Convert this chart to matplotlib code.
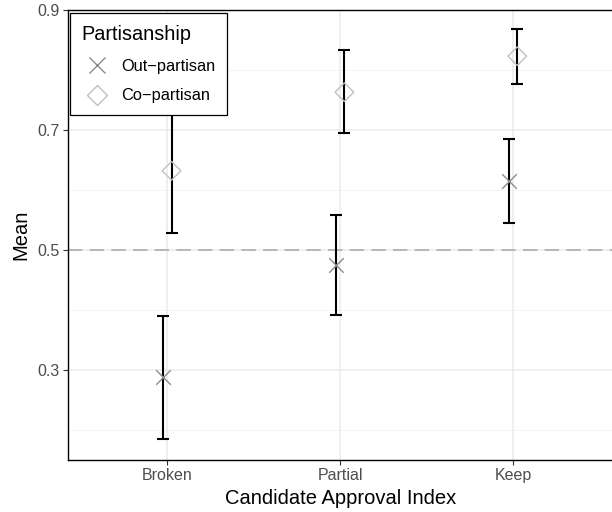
import matplotlib
matplotlib.use("Agg")
import matplotlib.pyplot as plt
from matplotlib.lines import Line2D

plt.rcParams['font.family'] = ['Liberation Sans', 'DejaVu Sans']

# data
categories = ['Broken', 'Partial', 'Keep']
out_mean = [0.288, 0.475, 0.615]
out_low = [0.185, 0.392, 0.545]
out_high = [0.390, 0.558, 0.685]
co_mean = [0.632, 0.763, 0.823]
co_low = [0.528, 0.695, 0.777]
co_high = [0.735, 0.833, 0.868]

fig = plt.figure(figsize=(6.12, 5.12), dpi=100)
ax = fig.add_axes([68/612, 52/512, 1 - 68/612 + 0.002, 450/512])

x = [1, 2, 3]
dodge = 0.025
xo = [i - dodge for i in x]
xc = [i + dodge for i in x]

# grid
for g in [0.2, 0.4, 0.6, 0.8]:
    ax.axhline(g, color='#f2f2f2', lw=0.6, zorder=0)
for g in [0.3, 0.5, 0.7, 0.9]:
    ax.axhline(g, color='#ebebeb', lw=1.1, zorder=0)
for i in x:
    ax.axvline(i, color='#ebebeb', lw=1.1, zorder=0)

ax.axhline(0.5, color='#b3b3b3', lw=1.3, ls=(0, (8, 4)), zorder=1)

yerr_o = [[m - l for m, l in zip(out_mean, out_low)], [h - m for m, h in zip(out_mean, out_high)]]
yerr_c = [[m - l for m, l in zip(co_mean, co_low)], [h - m for m, h in zip(co_mean, co_high)]]
ax.errorbar(xo, out_mean, yerr=yerr_o, fmt='none', ecolor='black', elinewidth=1.5, capsize=4, capthick=1.5, zorder=2)
ax.errorbar(xc, co_mean, yerr=yerr_c, fmt='none', ecolor='black', elinewidth=1.5, capsize=4, capthick=1.5, zorder=2)
ax.scatter(xo, out_mean, marker='x', s=110, color='#8c8c8c', linewidths=1.0, zorder=3)
ax.scatter(xc, co_mean, marker='D', s=90, facecolors='none', edgecolors='#c0c0c0', linewidths=1.0, zorder=3)

ax.set_xlim(0.426, 3.58)
ax.set_ylim(0.15, 0.9)
ax.set_xticks(x)
ax.set_xticklabels(categories)
ax.set_yticks([0.3, 0.5, 0.7, 0.9])
ax.set_yticklabels(['0.3', '0.5', '0.7', '0.9'])
ax.tick_params(axis='both', colors='#333333', labelcolor='#4d4d4d', labelsize=11.5, length=3.5, width=0.8, pad=2.5)
for s in ax.spines.values():
    s.set_color('black')
    s.set_linewidth(1.0)

ax.set_xlabel('Candidate Approval Index', fontsize=14.5, labelpad=4)
ax.set_ylabel('Mean', fontsize=14.5, labelpad=5)

handles = [
    Line2D([], [], marker='x', ls='none', color='#8c8c8c', markersize=11, markeredgewidth=1.0),
    Line2D([], [], marker='D', ls='none', markerfacecolor='none', markeredgecolor='#c0c0c0', markersize=10, markeredgewidth=1.0),
]
leg = ax.legend(handles, ['Out\u2212partisan', 'Co\u2212partisan'], title='Partisanship',
                loc='upper left', bbox_to_anchor=(2/545, 447/450), borderaxespad=0,
                fontsize=11.8, title_fontsize=14.3,
                frameon=True, fancybox=False, edgecolor='black', framealpha=1,
                borderpad=0.72, labelspacing=0.9, handletextpad=0.6, handlelength=1.8)
leg.get_frame().set_linewidth(0.9)
leg._legend_box.align = 'left'

fig.savefig('out.png', dpi=100)
